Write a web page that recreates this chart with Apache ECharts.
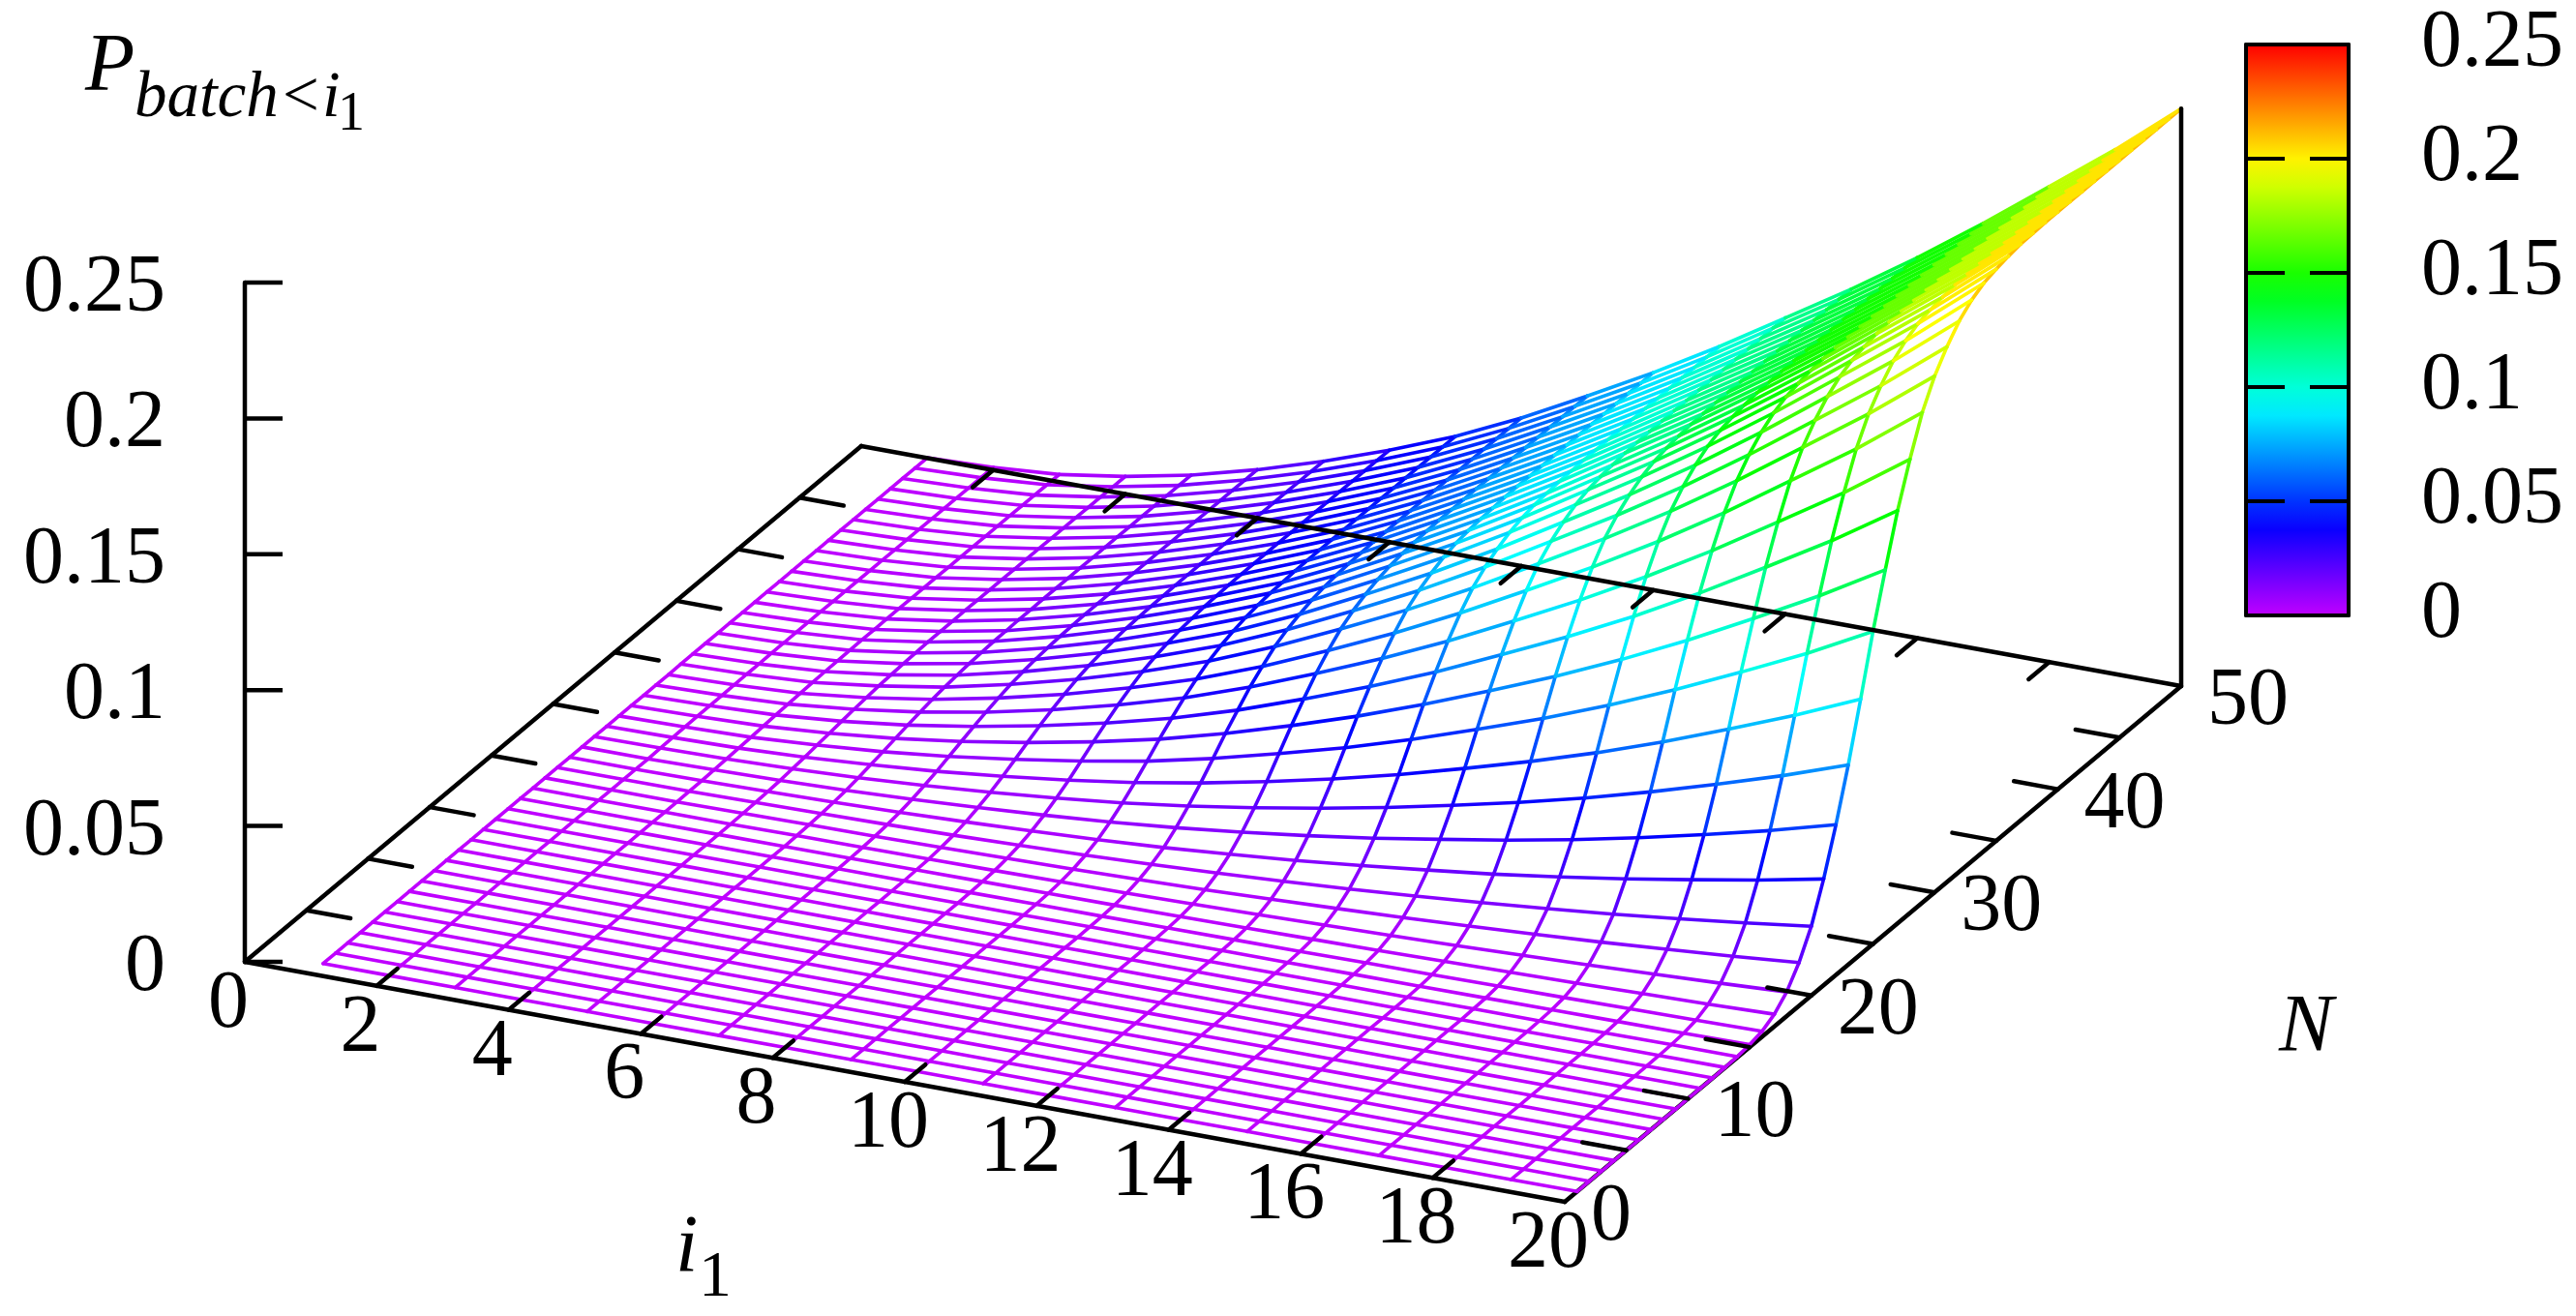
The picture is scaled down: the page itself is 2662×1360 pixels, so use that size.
<!DOCTYPE html>
<html><head><meta charset="utf-8">
<style>html,body{margin:0;padding:0;background:#fff;overflow:hidden}#c{width:2662px;height:1360px}</style>
<script src="https://cdn.jsdelivr.net/npm/echarts@6/dist/echarts.min.js"></script>
</head><body><div id="c"></div>
<script>
// P(batch<i1), in units of 1/10000, one list per i1 (1..20), each entry N = 1..50
const pUnit = 1e-4;
const p1 = [0,0,0,0,0,0,0,0,0,0,0,0,0,0,0,0,0,0,0,0,0,0,0,0,0,0,0,0,0,1,1,1,1,1,1,1,1,1,1,1,1,1,1,1,1,1,1,1,1,1];
const p2 = [0,0,0,0,0,0,0,0,0,0,0,0,0,0,0,0,0,0,0,0,0,0,2,3,4,5,6,6,7,8,8,9,9,10,10,10,10,10,10,10,10,10,10,10,10,10,10,10,10,10];
const p3 = [0,0,0,0,0,0,0,0,0,0,0,0,0,0,0,0,0,0,0,1,2,4,6,8,10,13,16,18,20,22,24,25,26,27,27,28,28,28,28,28,28,28,28,28,28,28,28,28,28,28];
const p4 = [0,0,0,0,0,0,0,0,0,0,0,0,0,0,0,0,0,0,2,4,6,9,14,19,25,31,37,43,48,53,56,59,61,63,64,64,65,65,65,65,65,65,65,65,65,65,65,65,65,65];
const p5 = [0,0,0,0,0,0,0,0,0,0,0,0,0,0,0,0,0,2,4,7,11,17,25,35,45,56,67,77,86,93,99,104,107,110,111,113,113,114,114,114,114,114,114,114,114,114,114,114,114,114];
const p6 = [0,0,0,0,0,0,0,0,0,0,0,0,0,0,0,0,1,3,6,11,18,28,41,55,72,89,106,121,135,147,156,163,168,172,174,176,177,177,178,178,178,178,178,178,178,178,178,178,178,178];
const p7 = [0,0,0,0,0,0,0,0,0,0,0,0,0,0,0,0,2,4,9,16,27,42,60,81,105,129,153,174,193,210,223,232,239,245,248,250,251,252,253,253,253,253,253,253,253,253,253,253,253,253];
const p8 = [0,0,0,0,0,0,0,0,0,0,0,0,0,0,0,1,3,6,13,23,38,58,83,111,143,176,207,236,261,283,299,311,321,327,332,334,336,337,338,338,338,338,338,338,338,338,338,338,338,338];
const p9 = [0,0,0,0,0,0,0,0,0,0,0,0,0,0,0,2,4,9,17,31,50,77,109,146,187,230,269,306,337,365,385,400,412,420,426,428,431,432,433,433,433,433,433,433,433,433,433,433,433,433];
const p10 = [0,0,0,0,0,0,0,0,0,0,0,0,0,0,1,2,5,11,23,41,65,100,142,189,241,295,343,390,428,463,487,505,520,530,536,540,542,544,544,545,545,545,545,545,545,545,545,545,545,545];
const p11 = [0,0,0,0,0,0,0,0,0,0,0,0,0,0,1,3,7,15,30,53,85,128,180,238,303,368,428,484,531,572,601,623,640,652,660,664,667,669,670,670,670,670,670,670,670,670,670,670,670,670];
const p12 = [0,0,0,0,0,0,0,0,0,0,0,0,0,0,2,4,9,20,39,67,106,159,222,292,369,447,518,583,639,686,720,746,766,780,788,793,796,799,800,800,800,800,800,800,800,800,800,800,800,800];
const p13 = [0,0,0,0,0,0,0,0,0,0,0,0,0,1,2,5,12,26,49,83,131,194,269,352,443,534,616,692,757,811,850,879,902,917,927,932,936,938,940,940,940,940,940,940,940,940,940,940,940,940];
const p14 = [0,0,0,0,0,0,0,0,0,0,0,0,0,1,3,7,15,32,60,101,159,234,321,419,525,628,724,810,884,945,989,1022,1048,1065,1075,1081,1086,1088,1090,1090,1090,1090,1090,1090,1090,1090,1090,1090,1090,1090];
const p15 = [0,0,0,0,0,0,0,0,0,0,0,0,0,1,3,8,19,39,73,121,188,275,376,489,609,726,834,931,1014,1081,1129,1166,1194,1213,1224,1231,1236,1238,1240,1240,1240,1240,1240,1240,1240,1240,1240,1240,1240,1240];
const p16 = [0,0,0,0,0,0,0,0,0,0,0,0,0,2,4,10,23,47,87,143,222,321,436,565,702,832,953,1061,1153,1226,1279,1320,1351,1371,1383,1390,1396,1398,1400,1400,1400,1400,1400,1400,1400,1400,1400,1400,1400,1400];
const p17 = [0,0,0,0,0,0,0,0,0,0,0,0,0,2,5,12,27,56,102,167,259,372,503,649,803,947,1083,1201,1303,1382,1440,1485,1518,1539,1551,1560,1565,1568,1570,1570,1570,1570,1570,1570,1570,1570,1570,1570,1570,1570];
const p18 = [0,0,0,0,0,0,0,0,0,0,0,0,1,2,6,15,33,66,120,194,300,428,575,740,912,1071,1222,1351,1464,1549,1611,1660,1695,1718,1730,1740,1745,1748,1750,1750,1750,1750,1750,1750,1750,1750,1750,1750,1750,1750];
const p19 = [0,0,0,0,0,0,0,0,0,0,0,0,1,3,7,17,38,77,138,223,343,487,651,835,1025,1199,1364,1503,1626,1717,1783,1836,1872,1897,1910,1919,1926,1928,1930,1930,1930,1930,1930,1930,1930,1930,1930,1930,1930,1930];
const p20 = [0,0,0,0,0,0,0,0,0,0,0,0,1,3,9,20,45,89,159,255,391,553,735,939,1150,1339,1519,1670,1804,1900,1970,2027,2066,2091,2104,2114,2121,2123,2125,2125,2125,2125,2125,2125,2125,2125,2125,2125,2125,2125];
const surface = [p1,p2,p3,p4,p5,p6,p7,p8,p9,p10,p11,p12,p13,p14,p15,p16,p17,p18,p19,p20];
surface.forEach((r,k)=>{ if(r.length!==50) throw new Error('row p'+(k+1)+' has '+r.length); });

const iTickLabels = [0,2,4,6,8,10,12,14,16,18,20];
const nTickLabels = [0,10,20,30,40,50];
const nTickMarks = [5,10,15,20,25,30,35,40,45];
const iTickMarks = [2,4,6,8,10,12,14,16,18];
const zTicks = ['0','0.05','0.1','0.15','0.2','0.25'];
const barRange = [0.25];

// ---- view of the box: pixels per unit of each data axis
const O = [253, 994], IX = [68.2, 12.4], NX = [12.74, -10.66], ZY = 2808;
const proj = (i,n,z) => [O[0]+i*IX[0]+n*NX[0], O[1]+i*IX[1]+n*NX[1]-z*ZY];

// ---- palette: hue runs linearly from 285 deg (0) to 0 deg (0.25)
const PAL_MAX = 0.25;
const palette = v => 'hsl(' + (285*(1-Math.min(v,PAL_MAX)/PAL_MAX)).toFixed(1) + ',100%,50%)';

// ---- mesh segments
const meshData = [];
for (let k=0;k<20;k++) for (let m=0;m<49;m++) {
  meshData.push([k+1,m+1,surface[k][m]*pUnit,k+1,m+2,surface[k][m+1]*pUnit]);
}
for (let m=0;m<50;m++) for (let k=0;k<19;k++) {
  meshData.push([k+1,m+1,surface[k][m]*pUnit,k+2,m+1,surface[k+1][m]*pUnit]);
}
const peak = p20[49]*pUnit;
const lowFrame = [[20,0,0,20,50,0]];
const topFrame = [[0,0,0,20,0,0],[0,0,0,0,50,0],[0,50,0,20,50,0],[20,50,0,20,50,peak],[0,0,0,0,0,0.25]];
iTickMarks.forEach(i=>{ topFrame.push([i,0,0,i,50/30,0]); topFrame.push([i,50,0,i,50-50/30,0]); });
nTickMarks.forEach(n=>{ topFrame.push([0,n,0,20/30,n,0]); topFrame.push([20,n,0,20-20/30,n,0]); });

const segRender = (colorFn,width) => (params,api) => {
  const a=proj(api.value(0),api.value(1),api.value(2)), b=proj(api.value(3),api.value(4),api.value(5));
  const pa=api.coord(a), pb=api.coord(b);
  return {type:'line',shape:{x1:pa[0],y1:pa[1],x2:pb[0],y2:pb[1]},
    style:{stroke:colorFn(api),lineWidth:width,lineCap:'round',fill:null}};
};
const segDims = ['i','n','z','i2','n2','z2'];

const FONT='"Liberation Serif"', TICK=84;
const textRender = (getPos,align) => (params,api) => {
  const pos=api.coord(getPos(api.value(0)));
  return {type:'text',style:{text:String(api.value(0)),x:pos[0],y:pos[1],fontFamily:FONT,fontSize:TICK,fill:'#000',align:align,verticalAlign:'middle'}};
};
// title text positioned by its baseline (.266 em below the middle of the text box)
const title = (text,x,base,size,italic) => ({type:'text',x:x,y:base-0.266*size,silent:true,
  style:{text:text,fontFamily:FONT,fontStyle:italic?'italic':'normal',fontSize:size,fill:'#000',align:'left',verticalAlign:'middle'}});

const cbStops = [];
for (let s=0;s<=20;s++) cbStops.push({offset:s/20,color:palette(PAL_MAX*(1-s/20))});

const chart = echarts.init(document.getElementById('c'),null,{renderer:'canvas',width:2662,height:1360});
chart.setOption({
  animation:false,
  backgroundColor:'#fff',
  grid:[
    {left:0,top:0,width:2662,height:1360},
    {left:2321,top:46,width:106,height:590}
  ],
  xAxis:[
    {gridIndex:0,type:'value',min:0,max:2662,show:false},
    {gridIndex:1,type:'category',data:['c'],position:'bottom',z:6,axisLine:{show:true,onZero:false,lineStyle:{color:'#000',width:4}},axisTick:{show:false},axisLabel:{show:false},splitLine:{show:false}},
    {gridIndex:1,type:'category',data:['c'],position:'top',z:6,axisLine:{show:true,onZero:false,lineStyle:{color:'#000',width:4}},axisTick:{show:false},axisLabel:{show:false},splitLine:{show:false}}
  ],
  yAxis:[
    {gridIndex:0,type:'value',min:0,max:1360,inverse:true,show:false},
    {gridIndex:1,type:'value',min:0,max:0.25,interval:0.05,position:'right',z:6,
      axisLine:{show:true,onZero:false,lineStyle:{color:'#000',width:4}},
      axisTick:{show:true,inside:true,length:40,lineStyle:{color:'#000',width:4}},
      axisLabel:{show:true,margin:75,color:'#000',fontFamily:FONT,fontSize:TICK,padding:[12,0,0,0]},splitLine:{show:false}},
    {gridIndex:1,type:'value',min:0,max:0.25,interval:0.05,position:'left',z:6,
      axisLine:{show:true,onZero:false,lineStyle:{color:'#000',width:4}},
      axisTick:{show:true,inside:true,length:40,lineStyle:{color:'#000',width:4}},
      axisLabel:{show:false},splitLine:{show:false}}
  ],
  series:[
    {type:'custom',name:'frame-under',xAxisIndex:0,yAxisIndex:0,z:1,silent:true,clip:false,dimensions:segDims,data:lowFrame,
      renderItem:segRender(()=>'#000',4.5)},
    {type:'custom',name:'surface',xAxisIndex:0,yAxisIndex:0,z:2,silent:true,clip:false,dimensions:segDims,data:meshData,
      renderItem:segRender(api=>palette((api.value(2)+api.value(5))/2),3.6)},
    {type:'custom',name:'frame',xAxisIndex:0,yAxisIndex:0,z:3,silent:true,clip:false,dimensions:segDims,data:topFrame,
      renderItem:segRender(()=>'#000',4.5)},
    {type:'custom',name:'z-ticks',xAxisIndex:0,yAxisIndex:0,z:3,silent:true,clip:false,data:zTicks.map(Number),
      renderItem:(p,api)=>{const a=api.coord(proj(0,0,api.value(0)));
        return {type:'line',shape:{x1:a[0],y1:a[1],x2:a[0]+39,y2:a[1]},style:{stroke:'#000',lineWidth:4.5}};}},
    {type:'custom',name:'i-labels',xAxisIndex:0,yAxisIndex:0,z:4,silent:true,clip:false,data:iTickLabels,
      renderItem:textRender(v=>{const q=proj(v,0,0);return [q[0]-17,q[1]+45];},'center')},
    {type:'custom',name:'n-labels',xAxisIndex:0,yAxisIndex:0,z:4,silent:true,clip:false,data:nTickLabels,
      renderItem:textRender(v=>{const q=proj(20,v,0);return [q[0]+27,q[1]+17];},'left')},
    {type:'custom',name:'z-labels',xAxisIndex:0,yAxisIndex:0,z:4,silent:true,clip:false,data:zTicks.map(Number),
      renderItem:textRender(v=>{const q=proj(0,0,v);return [171,q[1]+7];},'right')},
    {type:'bar',name:'colorbar',xAxisIndex:1,yAxisIndex:1,barWidth:'100%',silent:true,z:2,data:barRange,
      itemStyle:{color:new echarts.graphic.LinearGradient(0,0,0,1,cbStops)}}
  ],
  graphic:[
    title('P',88,93,84,true),
    title('batch<i',139,120,67,true),
    title('1',349,134,56,false),
    title('i',698,1314,84,true),
    title('1',722,1339,68,false),
    title('N',2355,1086,84,true)
  ]
});
</script></body></html>
